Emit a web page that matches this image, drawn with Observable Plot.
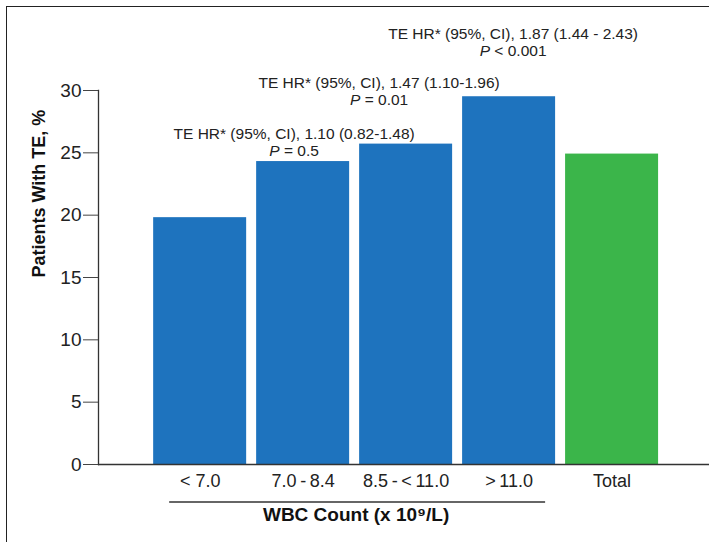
<!DOCTYPE html>
<html>
<head>
<meta charset="utf-8">
<script src="https://cdn.jsdelivr.net/npm/d3@7"></script>
<script src="https://cdn.jsdelivr.net/npm/@observablehq/plot@0.6"></script>
<style>
  body { margin: 0; background: #fff; }
  #wrap { position: relative; width: 709px; height: 542px; overflow: hidden; background: #fff; }
  #wrap svg { position: absolute; left: 0; top: 0; }
  #border { position: absolute; left: 6px; top: 6px; width: 760px; height: 600px;
            border-left: 1.6px solid #222; border-top: 1.6px solid #222; pointer-events: none; }
</style>
</head>
<body>
<div id="wrap"><div id="border"></div></div>
<script>
// ---- data ----
const categories = ["< 7.0", "7.0\u2009-\u20098.4", "8.5\u2009-\u2009<\u200911.0", ">\u200911.0", "Total"];
const values = [19.8, 24.3, 25.7, 29.5, 24.9];
const groups = ["WBC", "WBC", "WBC", "WBC", "Total"];
const hrLabels = [
  "TE HR* (95%, CI), 1.10 (0.82-1.48)",
  "TE HR* (95%, CI), 1.47 (1.10-1.96)",
  "TE HR* (95%, CI), 1.87 (1.44 - 2.43)"
];
const pLabels = ["P = 0.5", "P = 0.01", "P < 0.001"];
const annotCategories = [categories[1], categories[2], categories[3]];
const yTicks = [0, 5, 10, 15, 20, 25, 30];
const xTitle = "WBC Count (x 10\u2079/L)";
const yTitle = "Patients With TE, %";

const table = categories.map((c, i) => ({category: c, value: values[i], group: groups[i]}));

// ---- styling (not data) ----
const blue = "#1E73BE";
const green = "#3BB54A";
const ink = "#222";
const annotDx = [-9, -27, 4];
const annotDy = [37, -14, -63];

const annotMarks = [];
for (let i = 0; i < hrLabels.length; i++) {
  annotMarks.push(Plot.text([hrLabels[i]], {
    x: () => annotCategories[i], text: d => d, frameAnchor: "top",
    dx: annotDx[i], dy: annotDy[i], fontSize: 15.5, fill: ink
  }));
  annotMarks.push(Plot.text([pLabels[i]], {
    x: () => annotCategories[i], text: d => d, frameAnchor: "top",
    dx: annotDx[i], dy: annotDy[i] + 17.5, fontSize: 15.5, fill: ink
  }));
}

const chart = Plot.plot({
  width: 709,
  height: 542,
  marginLeft: 98,
  marginRight: 0,
  marginTop: 90,
  marginBottom: 78,
  style: {fontFamily: "'Liberation Sans', Arial, Helvetica, sans-serif", color: ink, background: "transparent"},
  x: {domain: categories, paddingInner: 0.097, paddingOuter: 0.515, align: 0.52, round: false, label: null},
  y: {domain: [0, 30], label: null},
  color: {domain: ["WBC", "Total"], range: [blue, green]},
  marks: [
    Plot.barY(table, {x: "category", y: "value", fill: "group"}),
    Plot.frame({anchor: "left", stroke: "#333", strokeWidth: 1.3}),
    Plot.ruleY([0], {stroke: "#333", strokeWidth: 1.3}),
    Plot.axisY({ticks: yTicks, tickSize: 15, tickPadding: 2, fontSize: 19, label: null, stroke: "#444"}),
    Plot.axisX({tickSize: 0, tickPadding: 10, fontSize: 18, label: null}),
    Plot.ruleY([0], {x1: () => categories[0], x2: () => categories[3], insetLeft: 16, insetRight: 10, dy: 37.5, stroke: "#333", strokeWidth: 1.4}),
    Plot.text([xTitle], {text: d => d, frameAnchor: "bottom", x: () => categories[2], dx: -50, dy: 56, fontSize: 19, fontWeight: "bold", fill: "#111"}),
    Plot.text([yTitle], {text: d => d, frameAnchor: "left", rotate: -90, dx: -59, fontSize: 18, fontWeight: "bold", fill: "#111"}),
    ...annotMarks
  ]
});

// Italicise the leading "P" of the P-value lines (keeps them as real text)
d3.select(chart).selectAll("text").each(function() {
  const t = this.textContent;
  if (/^P [=<]/.test(t) && this.children.length === 0) {
    const sel = d3.select(this);
    sel.text(null);
    sel.append("tspan").attr("font-style", "italic").text("P");
    sel.append("tspan").text(t.slice(1));
  }
});

document.getElementById("wrap").insertBefore(chart, document.getElementById("border"));
</script>
</body>
</html>
